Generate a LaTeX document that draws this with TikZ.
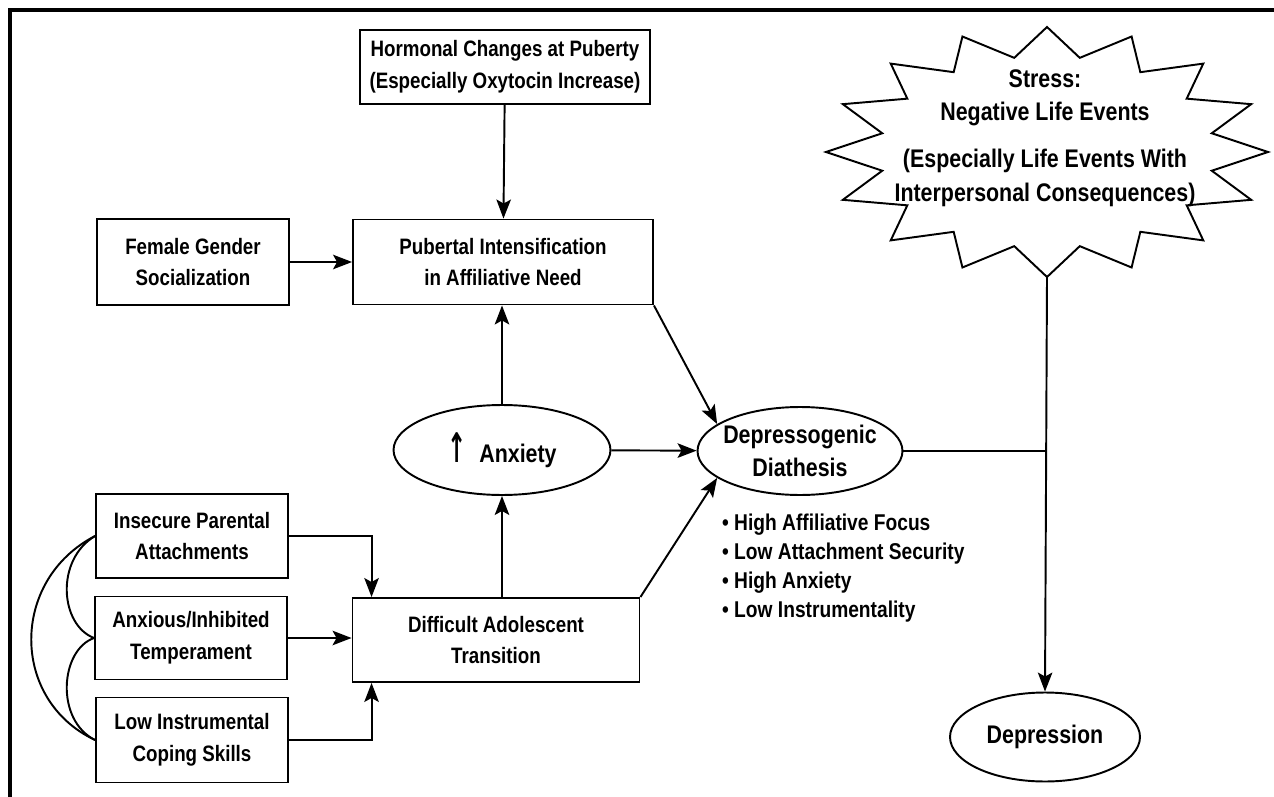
\documentclass[tikz,border=0pt]{standalone}
\usepackage{fontspec}
\setmainfont[FakeStretch=0.84]{Liberation Sans}
\newfontfamily\arrowfont{DejaVu Sans}
\usetikzlibrary{arrows.meta,shapes.geometric}

\begin{document}
\begin{tikzpicture}[x=0.02cm, y=-0.02cm, >={Stealth[length=3.8mm,width=2.9mm,inset=0.8mm]}]
        \tikzstyle{rect} = [draw, rectangle, line width=1.1pt, align=center, font=\fontsize{12.7}{18}\selectfont\bfseries]
        \tikzstyle{oval} = [draw, ellipse, line width=1.1pt, inner sep=-5mm, align=center, font=\fontsize{14.5}{19}\selectfont\bfseries]
        \tikzstyle{line} = [line width=1.1pt]
        \useasboundingbox (0,0) rectangle (1274,797);
        \draw[line width=2.2pt] (10,797) -- (10,10) -- (1274,10);

        \node (hormone) [rect, minimum width=5.8cm, minimum height=1.48cm] at (505,67) {Hormonal Changes at Puberty\\(Especially Oxytocin Increase)};
        \node (gender) [rect, minimum width=3.84cm, minimum height=1.72cm] at (193,262) {Female Gender\\Socialization};
        \node (puberty) [rect, minimum width=6cm, minimum height=1.7cm] at (503,262) {Pubertal Intensification\\in Affiliative Need};
        \node (anxiety) [oval, minimum width=4.34cm, minimum height=1.8cm] at (502,450) {{\arrowfont\scalebox{0.9}[1.6]{↑}}\enspace Anxiety};
        \node (diathesis) [oval, minimum width=4.1cm, minimum height=1.76cm] at (800,451) {Depressogenic\\Diathesis};
        \node (traits) [anchor=north west, align=left, font=\fontsize{13}{16.5}\selectfont\bfseries] at (716,508) {\textbullet\ High Affiliative Focus\\\textbullet\ Low Attachment Security\\\textbullet\ High Anxiety\\\textbullet\ Low Instrumentality};
        \node (depression) [oval, minimum width=3.8cm, minimum height=1.78cm] at (1045,737) {Depression};
        \node (insecure) [rect, minimum width=3.84cm, minimum height=1.68cm] at (192,536) {Insecure Parental\\Attachments};
        \node (temper) [rect, minimum width=3.84cm, minimum height=1.66cm] at (191,638) {Anxious/Inhibited\\Temperament};
        \node (coping) [rect, minimum width=3.84cm, minimum height=1.7cm] at (192,740) {Low Instrumental\\Coping Skills};
        \node (transition) [rect, minimum width=5.74cm, minimum height=1.68cm] at (496,640) {Difficult Adolescent\\Transition};

        % stress burst
        \draw[line] (1047,27) \foreach \k [evaluate=\k as \rx using {isodd(\k) ? 168 : 221}, evaluate=\k as \ry using {isodd(\k) ? 96 : 125}] in {1,...,31} { -- ({1047+\rx*cos(90-11.25*\k)},{152-\ry*sin(90-11.25*\k)}) } -- cycle;
        \coordinate (stresstip) at (1047,277);
        \node (stress) [align=center, font=\fontsize{14.5}{19}\selectfont\bfseries] at (1045,138) {Stress:\\Negative Life Events\\[8pt](Especially Life Events With\\Interpersonal Consequences)};

        \draw[->, line] (hormone) -- (puberty);
        \draw[->, line] (gender) -- (puberty);
        \draw[->, line] (anxiety.north) -- (anxiety.north |- puberty.south);
        \draw[->, line] (anxiety.south |- transition.north) -- (anxiety.south);
        \draw[->, line] (anxiety) -- (diathesis);
        \draw[->, line] (puberty.south east) -- (diathesis.162);
        \draw[->, line] (transition.north east) -- (diathesis.198);
        \draw[->, line] (insecure.east) -| ([xshift=0.4cm]transition.north west);
        \draw[->, line] (temper.east) -- (temper.east -| transition.west);
        \draw[->, line] (coping.east) -| ([xshift=0.4cm]transition.south west);
        \draw[line] (diathesis.east) -- (diathesis.east -| stresstip);
        \draw[->, line] (stresstip) -- (depression.north);

        % brace
        \draw[line] (insecure.west) .. controls (10,580) and (10,700) .. (coping.west);
        \draw[line] (insecure.west) .. controls (55,560) and (60,625) .. (temper.west);
        \draw[line] (temper.west) .. controls (60,650) and (55,720) .. (coping.west);
\end{tikzpicture}
\end{document}
